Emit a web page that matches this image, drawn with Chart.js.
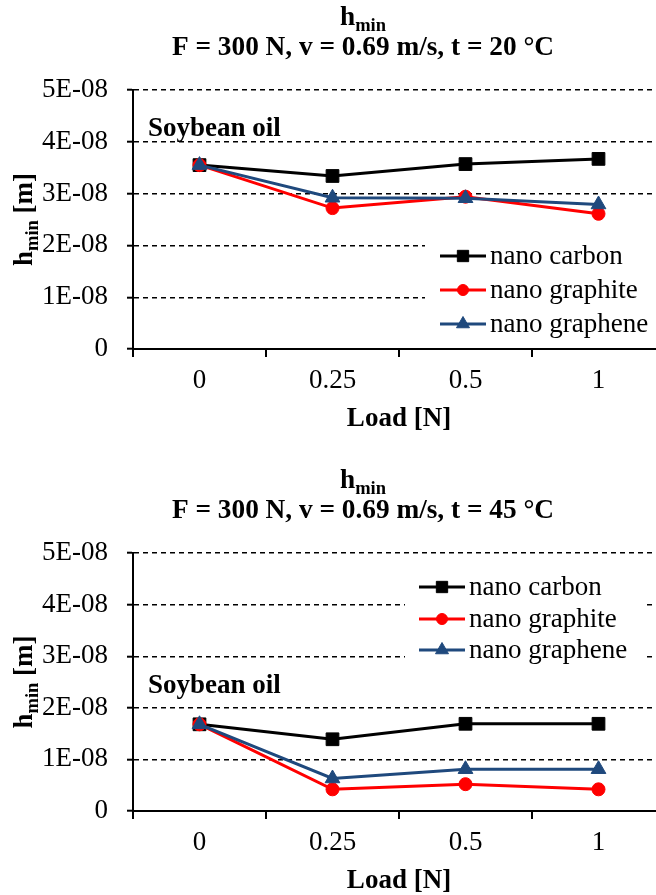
<!DOCTYPE html>
<html><head><meta charset="utf-8">
<script src="https://cdn.jsdelivr.net/npm/chart.js@4.4.1/dist/chart.umd.min.js"></script>
<style>
html,body{margin:0;padding:0;background:#fff;overflow:hidden;width:656px;height:895px;}
#wrap{position:relative;width:656px;height:895px;overflow:hidden;background:#fff;}
canvas{position:absolute;left:0;}
</style></head><body>
<div id="wrap">
<canvas id="c1" width="720" height="460" style="top:0;width:720px;height:460px"></canvas>
<canvas id="c2" width="720" height="437" style="top:460px;width:720px;height:437px"></canvas>
</div>
<script>
// ---- data ----
const categories = ['0', '0.25', '0.5', '1'];
const seriesNames = ['nano carbon', 'nano graphite', 'nano graphene'];
const yTickLabels = ['0', '1E-08', '2E-08', '3E-08', '4E-08', '5E-08'];
const carbon20   = [3.55e-8, 3.34e-8, 3.57e-8, 3.67e-8];
const graphite20 = [3.55e-8, 2.72e-8, 2.94e-8, 2.61e-8];
const graphene20 = [3.55e-8, 2.92e-8, 2.91e-8, 2.79e-8];
const carbon45   = [1.68e-8, 1.39e-8, 1.69e-8, 1.69e-8];
const graphite45 = [1.68e-8, 0.42e-8, 0.52e-8, 0.42e-8];
const graphene45 = [1.68e-8, 0.63e-8, 0.81e-8, 0.81e-8];
const chartTitles = ['F = 300 N, v = 0.69 m/s, t = 20 °C', 'F = 300 N, v = 0.69 m/s, t = 45 °C'];
const xTitle = 'Load [N]';
const oilLabel = 'Soybean oil';

// ---- styles ----
const FONT = '"Liberation Serif", "Times New Roman", Times, serif';
const FS = 27;
const TFS = 27.3;
const seriesStyles = [
  {color: '#000000', pointStyle: 'rect', radius: 9, order: 2},
  {color: '#FF0000', pointStyle: 'circle', radius: 6.5, order: 1},
  {color: '#1F497D', pointStyle: 'triangle', radius: 8.5, order: 0}
];

function drawRuns(ctx, runs, cx, baseline, align) {
  let total = 0;
  runs.forEach(r => { ctx.font = 'bold ' + r.size + 'px ' + FONT; r.w = ctx.measureText(r.t).width; total += r.w; });
  let x = align === 'left' ? cx : cx - total / 2;
  ctx.textAlign = 'left';
  ctx.textBaseline = 'alphabetic';
  runs.forEach(r => { ctx.font = 'bold ' + r.size + 'px ' + FONT; ctx.fillText(r.t, x, baseline + (r.dy || 0)); x += r.w; });
}

const decoPlugin = {
  id: 'deco',
  afterDatasetsDraw(chart, args, o) {
    const ctx = chart.ctx;
    const ca = chart.chartArea;
    ctx.save();
    ctx.fillStyle = '#000';
    // title
    drawRuns(ctx, [{t: 'h', size: TFS}, {t: 'min', size: 18.5, dy: 6}], o.titleX, o.hBaseline);
    drawRuns(ctx, [{t: o.title, size: TFS}], o.titleX, o.titleBaseline);
    // y axis title (rotated)
    ctx.save();
    ctx.translate(32, (ca.top + ca.bottom) / 2);
    ctx.rotate(-Math.PI / 2);
    drawRuns(ctx, [{t: 'h', size: FS}, {t: 'min', size: 18.5, dy: 6}, {t: ' [m]', size: FS}], 0, 0);
    ctx.restore();
    // oil label
    drawRuns(ctx, [{t: oilLabel, size: FS}], 148, o.oilBaseline, 'left');
    // legend
    const L = o.legend;
    ctx.fillStyle = '#fff';
    ctx.fillRect(L.box[0], L.box[1], L.box[2], L.box[3]);
    chart.data.datasets.forEach((ds, i) => {
      const y = L.rows[i];
      ctx.strokeStyle = ds.borderColor;
      ctx.lineWidth = 3;
      ctx.setLineDash([]);
      ctx.beginPath(); ctx.moveTo(L.x0, y); ctx.lineTo(L.x1, y); ctx.stroke();
      ctx.fillStyle = ds.borderColor;
      ctx.lineWidth = 1;
      Chart.helpers.drawPoint(ctx, {pointStyle: ds.pointStyle, radius: ds.pointRadius - 1, rotation: 0, borderWidth: 1}, (L.x0 + L.x1) / 2, y);
      ctx.fillStyle = '#000';
      ctx.font = FS + 'px ' + FONT;
      ctx.textAlign = 'left';
      ctx.textBaseline = 'alphabetic';
      ctx.fillText(ds.label, L.textX, y + 8);
    });
    ctx.restore();
  }
};

function makeChart(id, series, p) {
  const datasets = series.map((vals, i) => ({
    label: seriesNames[i],
    data: vals,
    borderColor: seriesStyles[i].color,
    backgroundColor: seriesStyles[i].color,
    pointBackgroundColor: seriesStyles[i].color,
    pointBorderColor: seriesStyles[i].color,
    pointStyle: seriesStyles[i].pointStyle,
    pointRadius: seriesStyles[i].radius,
    pointHoverRadius: seriesStyles[i].radius,
    pointBorderWidth: 1,
    borderWidth: 3,
    tension: 0,
    order: seriesStyles[i].order
  }));
  return new Chart(document.getElementById(id), {
    type: 'line',
    data: {labels: categories, datasets: datasets},
    plugins: [decoPlugin],
    options: {
      responsive: false,
      animation: false,
      devicePixelRatio: 1,
      layout: {padding: {top: p.plotTop, right: 55, left: 0, bottom: 0}},
      plugins: {
        legend: {display: false},
        title: {display: false},
        tooltip: {enabled: false},
        deco: p.deco
      },
      scales: {
        x: {
          type: 'category',
          offset: true,
          afterFit: s => { s.height = p.xHeight; },
          grid: {offset: true, drawOnChartArea: false, drawTicks: true, tickLength: 8, color: '#000', lineWidth: 2},
          border: {display: true, color: '#000', width: 2},
          ticks: {color: '#000', font: {family: FONT, size: FS}, padding: 8, autoSkip: false, maxRotation: 0},
          title: {display: true, text: xTitle, color: '#000', font: {family: FONT, size: FS, weight: 'bold'}, padding: {top: 0, bottom: p.xTitlePad}}
        },
        y: {
          min: 0, max: 5e-8,
          afterFit: s => { s.width = 133; },
          grid: {color: '#000', lineWidth: 1.4, drawTicks: true, tickLength: 6, tickWidth: 2, tickColor: '#000'},
          border: {display: true, color: '#000', width: 2, dash: [5, 4]},
          ticks: {stepSize: 1e-8, color: '#000', font: {family: FONT, size: FS}, padding: 19,
                  callback: (v, i) => yTickLabels[i]}
        }
      }
    }
  });
}

makeChart('c1', [carbon20, graphite20, graphene20], {
  plotTop: 90, xHeight: 111, xTitlePad: 25,
  deco: {title: chartTitles[0], titleX: 363, hBaseline: 25, titleBaseline: 55, oilBaseline: 136,
         legend: {box: [425, 238, 300, 104], x0: 440, x1: 486, textX: 490, rows: [256, 290, 324]}}
});
makeChart('c2', [carbon45, graphite45, graphene45], {
  plotTop: 93, xHeight: 86, xTitlePad: 0,
  deco: {title: chartTitles[1], titleX: 363, hBaseline: 28, titleBaseline: 58, oilBaseline: 233,
         legend: {box: [405, 107, 238, 100], x0: 419, x1: 465, textX: 469, rows: [127, 159, 190]}}
});
</script>
</body></html>
